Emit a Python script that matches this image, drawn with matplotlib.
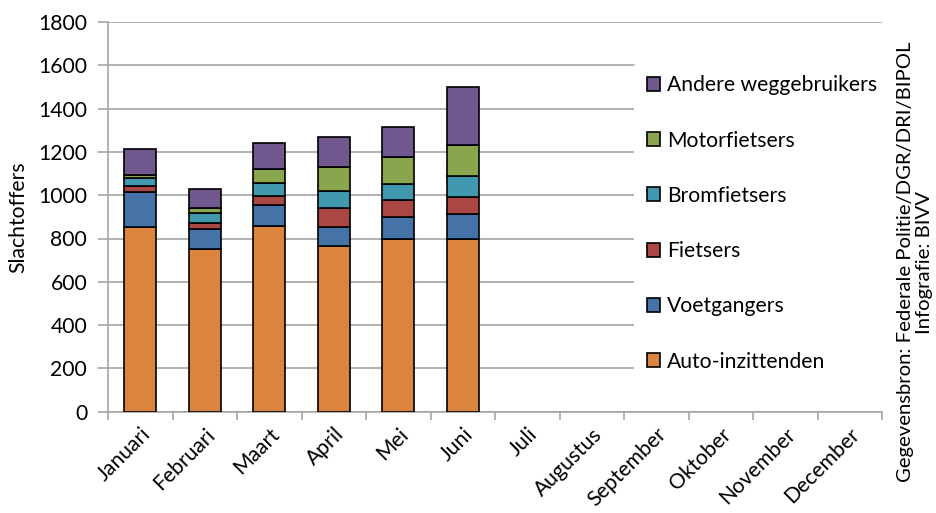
import matplotlib
matplotlib.use("Agg")
import matplotlib.pyplot as plt
import numpy as np

plt.rcParams["font.family"] = ["Lato", "DejaVu Sans"]

months = ["Januari", "Februari", "Maart", "April", "Mei", "Juni", "Juli",
          "Augustus", "September", "Oktober", "November", "December"]

# values per category, Jan..Jun (rest of year empty)
auto = [851, 751, 859, 765, 800, 796]
voetgangers = [164, 95, 98, 89, 100, 116]
fietsers = [28, 25, 40, 85, 76, 80]
bromfietsers = [37, 49, 60, 80, 78, 97]
motorfietsers = [12, 19, 62, 112, 121, 143]
andere = [120, 90, 120, 138, 139, 268]

series = [
    ("Auto-inzittenden", auto, "#DB843D"),
    ("Voetgangers", voetgangers, "#4572A7"),
    ("Fietsers", fietsers, "#AA4643"),
    ("Bromfietsers", bromfietsers, "#4198AF"),
    ("Motorfietsers", motorfietsers, "#89A54E"),
    ("Andere weggebruikers", andere, "#71588F"),
]

fs = 15.2
fig = plt.figure(figsize=(9.36, 5.13), dpi=100)
ax = fig.add_axes([108 / 936, 1 - 411.7 / 513, 774 / 936, 389.7 / 513])

x = np.arange(len(auto))
bottom = np.zeros(len(auto))
handles = []
for name, vals, col in series:
    b = ax.bar(x, vals, 0.5, bottom=bottom, color=col, edgecolor="black",
               linewidth=1.2, label=name, zorder=3)
    handles.append(b)
    bottom += np.array(vals)

grid_col = "#A6A6A6"
ax.set_xlim(-0.5, 11.5)
ax.set_ylim(0, 1800)
ax.set_yticks(range(0, 1801, 200))
ax.yaxis.grid(True, color=grid_col, linewidth=1.2, zorder=0)
ax.set_axisbelow(True)

ax.set_xticks(range(12))
ax.set_xticklabels(months, rotation=45, ha="right", rotation_mode="anchor")
ax.set_xticks(np.arange(-0.5, 12, 1), minor=True)
ax.tick_params(axis="x", which="major", length=0, pad=9, labelsize=fs)
ax.tick_params(axis="x", which="minor", length=6, width=1.2, color=grid_col)
ax.tick_params(axis="y", length=7, width=1.2, color=grid_col, labelsize=fs, pad=8)

for s in ["top", "right"]:
    ax.spines[s].set_visible(False)
for s in ["left", "bottom"]:
    ax.spines[s].set_color(grid_col)
    ax.spines[s].set_linewidth(1.2)

ax.set_ylabel("Slachtoffers", fontsize=fs, labelpad=7)

leg = ax.legend(handles[::-1], [s[0] for s in series][::-1],
                loc="center left", bbox_to_anchor=(0.6796, 0.483),
                frameon=True, fontsize=fs, handlelength=0.65, handleheight=0.65,
                handletextpad=0.3, labelspacing=1.67, borderpad=0.6,
                borderaxespad=0)
leg.get_frame().set_facecolor("white")
leg.get_frame().set_edgecolor("none")
leg.get_frame().set_alpha(1)

fig.text(915 / 936, 1 - 262 / 513,
         "Gegevensbron: Federale Politie/DGR/DRI/BIPOL\nInfografie: BIVV",
         rotation=90, ha="center", va="center", multialignment="center",
         fontsize=14.6, linespacing=1.1)

fig.savefig("out.png", dpi=100, facecolor="white")
